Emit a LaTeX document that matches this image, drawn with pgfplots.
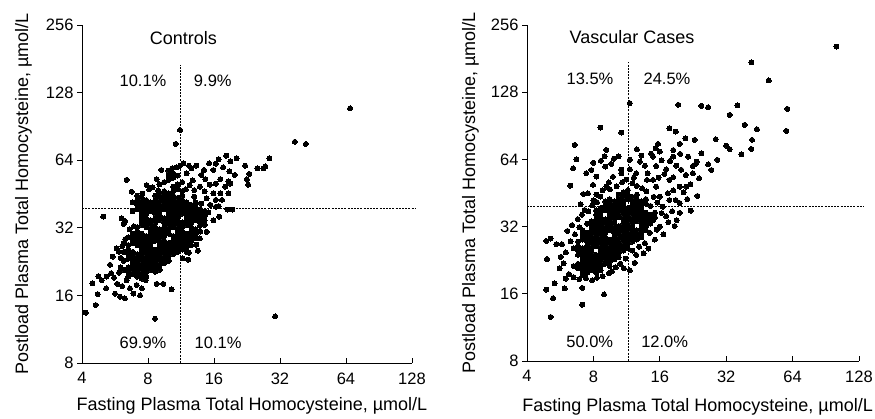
\documentclass[border=0pt]{standalone}
\usepackage{fontspec}
\setmainfont{Liberation Sans}
\usepackage{pgfplots}
\pgfplotsset{compat=1.18}
\begin{document}
\begin{tikzpicture}
\path[use as bounding box] (0,0) rectangle (875bp,419bp);
% ---------------- Controls ----------------
\begin{axis}[at={(82bp,56bp)}, anchor=south west, width=330bp, height=338bp,
  scale only axis,
  xmode=log, ymode=log, log basis x=2, log basis y=2,
  xmin=4, xmax=128, ymin=8, ymax=256,
  axis x line=bottom, axis y line=left,
  axis line style={-, line width=0.8bp},
  xtick={4,8,16,32,64,128}, xticklabels={4,8,16,32,64,128},
  ytick={8,16,32,64,128,256}, yticklabels={8,16,32,64,128,256},
  minor xtick={}, minor ytick={},
  xtick align=inside, ytick align=outside, major tick length=5bp,
  tick style={line width=0.8bp, black},
  tick label style={font=\fontsize{16.5bp}{19bp}\selectfont},
  xticklabel style={yshift=-6bp},
  clip=false,
  xlabel={Fasting Plasma Total Homocysteine, µmol/L},
  ylabel={Postload Plasma Total Homocysteine, µmol/L},
  every axis x label/.style={at={(axis description cs:0.515,-0.142)}, anchor=base, font=\fontsize{18bp}{21bp}\selectfont},
  every axis y label/.style={at={(axis description cs:-0.1636,0.5)}, rotate=90, anchor=base, font=\fontsize{18bp}{21bp}\selectfont}]
\addplot[black, line width=0.6bp, dash pattern=on 2bp off 1.2bp] coordinates {(11.2,8) (11.2,170)};
\addplot[black, line width=0.6bp, dash pattern=on 2bp off 1.2bp] coordinates {(4,38.9) (132,38.9)};
% dense core
\addplot[only marks, mark=*, mark size=2.5bp, mark options={fill=black, draw=black, line width=0pt}] coordinates {
(6.2,20.8) (6.2,22.8) (6.2,25.0) (6.2,27.4)
(6.5,19.4) (6.5,20.4) (6.5,21.3) (6.5,23.3) (6.5,24.4) (6.5,25.6) (6.5,26.8)
(6.81,19.9) (6.81,20.8) (6.81,21.8) (6.81,22.8) (6.81,23.9) (6.81,25.0) (6.81,27.4) (6.81,28.7) (6.81,30.1) (6.81,37.9) (6.81,41.5)
(7.14,19.4) (7.14,20.4) (7.14,21.3) (7.14,22.3) (7.14,23.3) (7.14,24.4) (7.14,26.8) (7.14,28.0) (7.14,29.4) (7.14,30.8) (7.14,32.2) (7.14,38.8) (7.14,40.5) (7.14,42.5) (7.14,44.5)
(7.49,19.0) (7.49,19.9) (7.49,20.8) (7.49,21.8) (7.49,22.8) (7.49,23.9) (7.49,25.0) (7.49,26.2) (7.49,27.4) (7.49,28.7) (7.49,30.1) (7.49,33.0) (7.49,34.5) (7.49,36.2) (7.49,37.9) (7.49,39.6) (7.49,41.5) (7.49,43.5)
(7.85,19.4) (7.85,20.4) (7.85,21.3) (7.85,22.3) (7.85,23.3) (7.85,24.4) (7.85,25.6) (7.85,26.8) (7.85,28.0) (7.85,29.4) (7.85,32.2) (7.85,33.8) (7.85,35.3) (7.85,37.0) (7.85,38.8) (7.85,40.5) (7.85,42.5)
(8.23,20.8) (8.23,21.8) (8.23,22.8) (8.23,23.9) (8.23,25.0) (8.23,26.2) (8.23,27.4) (8.23,28.7) (8.23,30.1) (8.23,31.5) (8.23,33.0) (8.23,34.5) (8.23,37.9) (8.23,39.6) (8.23,41.5)
(8.63,20.4) (8.63,21.3) (8.63,22.3) (8.63,23.3) (8.63,24.4) (8.63,25.6) (8.63,28.0) (8.63,29.4) (8.63,30.8) (8.63,32.2) (8.63,33.8) (8.63,35.3) (8.63,37.0) (8.63,38.8) (8.63,40.5) (8.63,42.5) (8.63,44.5)
(9.05,20.8) (9.05,21.8) (9.05,22.8) (9.05,23.9) (9.05,25.0) (9.05,26.2) (9.05,27.4) (9.05,28.7) (9.05,30.1) (9.05,31.5) (9.05,34.5) (9.05,36.2) (9.05,37.9) (9.05,39.6) (9.05,41.5) (9.05,43.5) (9.05,45.5)
(9.48,22.3) (9.48,23.3) (9.48,24.4) (9.48,25.6) (9.48,26.8) (9.48,28.0) (9.48,29.4) (9.48,30.8) (9.48,32.2) (9.48,33.8) (9.48,35.3) (9.48,38.8) (9.48,40.5) (9.48,42.5) (9.48,44.5) (9.48,46.6) (9.48,51.1)
(9.94,22.8) (9.94,23.9) (9.94,25.0) (9.94,26.2) (9.94,27.4) (9.94,30.1) (9.94,31.5) (9.94,33.0) (9.94,34.5) (9.94,36.2) (9.94,37.9) (9.94,39.6) (9.94,41.5) (9.94,43.5) (9.94,45.5) (9.94,52.3) (9.94,54.7)
(10.42,24.4) (10.42,25.6) (10.42,26.8) (10.42,28.0) (10.42,29.4) (10.42,32.2) (10.42,33.8) (10.42,35.3) (10.42,37.0) (10.42,38.8) (10.42,40.5) (10.42,42.5) (10.42,44.5) (10.42,46.6) (10.42,48.8) (10.42,53.5) (10.42,56.0)
(10.93,25.0) (10.93,26.2) (10.93,27.4) (10.93,28.7) (10.93,30.1) (10.93,31.5) (10.93,33.0) (10.93,34.5) (10.93,36.2) (10.93,37.9) (10.93,39.6) (10.93,41.5) (10.93,43.5) (10.93,47.7) (10.93,49.9) (10.93,54.7)
(11.46,25.6) (11.46,26.8) (11.46,28.0) (11.46,29.4) (11.46,30.8) (11.46,32.2) (11.46,33.8) (11.46,37.0) (11.46,38.8) (11.46,40.5) (11.46,42.5) (11.46,44.5) (11.46,46.6) (11.46,51.1)
(12.01,25.0) (12.01,26.2) (12.01,27.4) (12.01,28.7) (12.01,30.1) (12.01,33.0) (12.01,34.5) (12.01,36.2) (12.01,37.9) (12.01,39.6) (12.01,41.5)
(12.59,26.8) (12.59,28.0) (12.59,29.4) (12.59,30.8) (12.59,32.2) (12.59,33.8) (12.59,35.3) (12.59,37.0) (12.59,38.8) (12.59,40.5)
(13.20,28.7) (13.20,30.1) (13.20,31.5) (13.20,34.5) (13.20,36.2) (13.20,37.9) (13.20,39.6) (13.20,41.5)
(13.84,30.8) (13.84,33.8) (13.84,35.3) (13.84,37.0) (13.84,38.8)
(14.51,33.0) (14.51,34.5) (14.51,36.2) (14.51,37.9)
};
% scattered points
\addplot[only marks, mark=*, mark size=2.5bp, mark options={fill=black, draw=black, line width=0pt}] coordinates {
(66.8,109) (37.4,77.3) (42.0,75.6) (30.4,12.9) (4.16,13.4) (4.62,14.5) (4.46,18.1) (4.75,19.5) (4.72,16.2)
(8.61,12.6) (10.26,17.0) (9.40,18.0) (8.76,18.0) (11.2,87.3) (10.7,75.6) (6.39,52.3) (5.0,35.9) (5.76,25.9)
(5.37,21.9) (5.52,23.8) (5.43,20.1) (5.18,19.4) (5.15,17.2) (5.66,16.3) (5.96,15.8) (6.28,15.5) (6.86,16.3)
(7.36,16.0) (7.81,18.7) (6.62,17.2) (6.39,18.7) (4.92,18.7) (5.6,19.2) (5.9,20.2) (6.0,21.3) (5.8,18.0)
(6.1,17.6) (7.1,17.8) (7.5,17.2) (6.0,23.5) (5.9,25.0) (6.1,26.5) (6.3,28.5) (6.5,29.0) (6.6,31.5) (6.9,32.5) (6.2,33.3)
(6.07,35.3) (6.28,34.3) (6.74,46.3) (7.89,49.6) (7.55,45.4) (8.4,48.4) (9.2,57.9) (8.76,52.7) (8.9,47.0) (8.1,47.5) (9.0,50.0)
(11.6,62.0) (12.6,58.9) (12.0,55.9) (13.3,60.5) (14.4,57.9) (15.9,57.9) (14.6,52.7) (13.8,48.8) (13.0,47.1)
(15.3,49.8) (16.3,50.3) (15.9,45.5) (14.8,43.3) (16.3,42.6) (17.1,45.5) (18.0,48.8) (17.4,42.6) (19.0,50.3)
(16.3,39.7) (15.1,37.5) (15.9,34.6) (14.1,36.0) (13.8,32.7) (14.8,30.7) (13.8,28.7) (13.3,26.9) (12.3,24.8)
(12.2,23.1) (13.5,25.3) (11.5,23.4) (11.2,60.5) (10.3,58.9) (9.9,57.5) (10.8,59.5) (12.3,60.5) (12.8,52.0)
(12.4,49.5) (11.9,47.5) (13.0,44.0) (14.0,41.0) (14.5,46.5) (15.4,40.5) (16.8,40.0)
(19.0,63.2) (18.2,67.0) (20.3,65.3) (16.8,64.7) (16.3,61.8) (22.2,60.5) (25.2,58.9) (26.9,58.9) (27.4,60.0)
(28.6,65.3) (23.2,55.6) (22.6,52.7) (22.9,49.8) (18.6,51.5) (18.6,45.5) (18.4,38.6) (19.4,38.6) (16.9,35.9)
(17.1,52.7) (19.9,55.0) (17.6,59.5) (18.8,57.0) (15.2,62.0) (14.0,55.0)
};
\node[font=\fontsize{18bp}{21bp}\selectfont] at (axis cs:11.6,224) {Controls};
\node[font=\fontsize{16.5bp}{19bp}\selectfont] at (axis cs:7.59,144) {10.1\%};
\node[font=\fontsize{16.5bp}{19bp}\selectfont] at (axis cs:15.8,144) {9.9\%};
\node[font=\fontsize{16.5bp}{19bp}\selectfont] at (axis cs:7.59,9.87) {69.9\%};
\node[font=\fontsize{16.5bp}{19bp}\selectfont] at (axis cs:16.7,9.87) {10.1\%};
\end{axis}
% ---------------- Vascular Cases ----------------
\begin{axis}[at={(527bp,58bp)}, anchor=south west, width=332bp, height=336bp,
  scale only axis,
  xmode=log, ymode=log, log basis x=2, log basis y=2,
  xmin=4, xmax=128, ymin=8, ymax=256,
  axis x line=bottom, axis y line=left,
  axis line style={-, line width=0.8bp},
  xtick={4,8,16,32,64,128}, xticklabels={4,8,16,32,64,128},
  ytick={8,16,32,64,128,256}, yticklabels={8,16,32,64,128,256},
  minor xtick={}, minor ytick={},
  xtick align=inside, ytick align=outside, major tick length=5bp,
  tick style={line width=0.8bp, black},
  tick label style={font=\fontsize{16.5bp}{19bp}\selectfont},
  xticklabel style={yshift=-6bp},
  clip=false,
  xlabel={Fasting Plasma Total Homocysteine, µmol/L},
  ylabel={Postload Plasma Total Homocysteine, µmol/L},
  every axis x label/.style={at={(axis description cs:0.514,-0.149)}, anchor=base, font=\fontsize{18bp}{21bp}\selectfont},
  every axis y label/.style={at={(axis description cs:-0.1566,0.5)}, rotate=90, anchor=base, font=\fontsize{18bp}{21bp}\selectfont}]
\addplot[black, line width=0.6bp, dash pattern=on 2bp off 1.2bp] coordinates {(11.56,8) (11.56,175)};
\addplot[black, line width=0.6bp, dash pattern=on 2bp off 1.2bp] coordinates {(4,39.6) (133.5,39.6)};
\addplot[only marks, mark=*, mark size=2.5bp, mark options={fill=black, draw=black, line width=0pt}] coordinates {
(6.5,21.3) (6.5,25.6)
(6.81,20.8) (6.81,21.8) (6.81,23.9) (6.81,25.0) (6.81,26.2) (6.81,27.4)
(7.14,19.4) (7.14,20.4) (7.14,21.3) (7.14,22.3) (7.14,23.3) (7.14,24.4) (7.14,25.6) (7.14,28.0) (7.14,29.4) (7.14,30.8)
(7.49,19.9) (7.49,20.8) (7.49,21.8) (7.49,22.8) (7.49,23.9) (7.49,25.0) (7.49,26.2) (7.49,27.4) (7.49,28.7) (7.49,30.1) (7.49,33.0)
(7.85,20.4) (7.85,21.3) (7.85,22.3) (7.85,23.3) (7.85,24.4) (7.85,25.6) (7.85,26.8) (7.85,28.0) (7.85,29.4) (7.85,30.8) (7.85,32.2) (7.85,33.8)
(8.23,19.9) (8.23,20.8) (8.23,21.8) (8.23,22.8) (8.23,23.9) (8.23,26.2) (8.23,27.4) (8.23,28.7) (8.23,30.1) (8.23,31.5) (8.23,33.0) (8.23,34.5) (8.23,36.2) (8.23,37.9)
(8.63,20.4) (8.63,21.3) (8.63,22.3) (8.63,23.3) (8.63,24.4) (8.63,25.6) (8.63,26.8) (8.63,28.0) (8.63,29.4) (8.63,30.8) (8.63,32.2) (8.63,33.8) (8.63,35.3) (8.63,37.0) (8.63,38.8)
(9.05,21.8) (9.05,22.8) (9.05,23.9) (9.05,25.0) (9.05,26.2) (9.05,27.4) (9.05,28.7) (9.05,30.1) (9.05,31.5) (9.05,33.0) (9.05,34.5) (9.05,37.9) (9.05,39.6) (9.05,41.5)
(9.48,21.3) (9.48,22.3) (9.48,23.3) (9.48,24.4) (9.48,25.6) (9.48,26.8) (9.48,28.0) (9.48,30.8) (9.48,32.2) (9.48,33.8) (9.48,35.3) (9.48,37.0) (9.48,38.8) (9.48,40.5) (9.48,42.5)
(9.94,22.8) (9.94,23.9) (9.94,25.0) (9.94,26.2) (9.94,27.4) (9.94,28.7) (9.94,30.1) (9.94,31.5) (9.94,33.0) (9.94,34.5) (9.94,36.2) (9.94,37.9) (9.94,39.6) (9.94,41.5)
(10.42,23.3) (10.42,24.4) (10.42,25.6) (10.42,26.8) (10.42,28.0) (10.42,29.4) (10.42,30.8) (10.42,32.2) (10.42,35.3) (10.42,37.0) (10.42,38.8) (10.42,40.5) (10.42,42.5) (10.42,44.5)
(10.93,25.0) (10.93,26.2) (10.93,27.4) (10.93,28.7) (10.93,30.1) (10.93,31.5) (10.93,33.0) (10.93,34.5) (10.93,36.2) (10.93,37.9) (10.93,39.6) (10.93,41.5) (10.93,43.5) (10.93,45.5)
(11.46,25.6) (11.46,26.8) (11.46,28.0) (11.46,29.4) (11.46,30.8) (11.46,32.2) (11.46,33.8) (11.46,35.3) (11.46,37.0) (11.46,38.8) (11.46,42.5) (11.46,44.5) (11.46,46.6)
(12.01,27.4) (12.01,28.7) (12.01,30.1) (12.01,31.5) (12.01,33.0) (12.01,34.5) (12.01,36.2) (12.01,37.9) (12.01,39.6) (12.01,41.5) (12.01,43.5)
(12.59,28.0) (12.59,29.4) (12.59,30.8) (12.59,33.8) (12.59,35.3) (12.59,37.0) (12.59,38.8) (12.59,40.5) (12.59,42.5) (12.59,44.5)
(13.20,28.7) (13.20,30.1) (13.20,31.5) (13.20,33.0) (13.20,34.5) (13.20,36.2) (13.20,37.9) (13.20,39.6) (13.20,41.5)
(13.84,30.8) (13.84,32.2) (13.84,33.8) (13.84,35.3) (13.84,37.0) (13.84,40.5) (13.84,42.5)
(14.51,33.0) (14.51,34.5) (14.51,36.2) (14.51,39.6)
(15.2,35.3) (15.2,37.0)
};
\addplot[only marks, mark=*, mark size=2.5bp, mark options={fill=black, draw=black, line width=0pt}] coordinates {
(101,205) (41.6,174) (49.9,144.5) (60.6,107.8) (60.0,85.9) (36.0,111.6) (33.2,101.3) (38.8,91.4) (44.1,87.4)
(41.9,78.3) (41.6,71.3) (37.5,67.5) (33.2,71.1) (32.0,73.8) (28.7,78.8) (29.2,63.7) (27.4,57.4) (26.5,60.8)
(24.7,111.2) (26.5,109.7) (19.4,112.4) (17.7,88.3) (18.9,85.3) (19.7,75.1) (20.9,79.6) (23.0,78.3) (24.7,68.2)
(19.8,67.7) (11.7,114.3) (10.7,84.4) (8.6,88.9) (6.58,74.3) (6.70,64.1) (6.47,58.4) (6.29,48.8) (23.3,61.1)
(4.89,27.6) (4.93,22.9) (5.12,28.3) (5.43,26.7) (5.76,26.7) (5.69,23.4) (5.87,21.9) (5.99,18.7) (5.63,20.8)
(5.34,17.8) (4.89,16.7) (5.25,15.3) (5.12,12.6) (5.93,16.9) (7.12,17.0) (7.12,14.3) (8.94,15.9) (11.7,20.4)
(12.5,23.9) (6.2,19.6) (6.5,19.0) (6.9,18.6) (7.4,18.8) (7.9,18.4) (8.3,18.9) (8.8,19.2) (9.4,19.8) (6.0,24.5)
(6.3,27.5) (6.6,29.5) (6.1,30.6) (6.4,32.5) (6.9,31.8) (6.8,34.6) (7.1,36.2) (7.3,38.0) (7.0,40.3) (7.6,37.5)
(7.9,39.8) (8.0,42.0) (8.3,41.2) (8.6,43.6) (7.56,45.1) (7.2,44.8) (8.25,44.5) (9.16,48.3) (9.81,53.5) (10.7,55.5)
(9.4,50.5) (10.7,57.6) (11.7,63.8) (11.7,57.8) (12.5,55.5) (13.0,62.6) (13.7,60.0) (14.1,55.5) (14.9,65.9)
(15.7,75.1) (16.0,69.4) (17.1,57.8) (17.7,51.8) (18.4,53.2) (21.0,54.5) (22.6,55.5) (24.1,52.7) (21.1,48.3)
(21.3,42.5) (23.7,43.9) (22.1,37.7) (19.7,36.9) (19.1,34.2) (18.7,32.2) (15.2,28.0) (13.2,28.6) (9.16,70.6)
(8.65,63.1) (9.06,59.4) (9.65,61.1) (7.83,57.4) (7.42,55.5) (8.25,53.6) (7.97,49.2) (14.9,51.8) (15.4,48.3)
(16.0,43.6) (16.5,39.3) (17.7,42.1) (18.4,46.5) (17.1,35.6) (16.0,32.0) (14.9,34.2) (19.7,48.3) (18.9,42.1)
(19.7,40.8) (17.4,45.1) (22.6,59.8) (21.5,65.9) (18.4,65.9) (16.3,63.4) (15.4,59.8) (14.0,51.8) (10.2,48.5)
(10.8,50.5) (11.3,52.0) (12.0,50.0) (12.6,48.7) (13.3,47.5) (13.9,46.0) (12.2,53.0) (8.8,46.5) (9.5,47.0)
(15.6,41.0) (15.0,43.5) (16.3,36.8) (15.5,31.0) (14.4,30.0) (13.7,27.0) (14.2,25.5) (12.9,26.0) (12.0,25.0)
(11.2,23.0) (10.6,21.8) (10.1,21.0) (9.7,20.2) (11.0,20.8) (12.3,22.0) (13.5,24.3) (16.6,29.5) (17.5,33.5)
(18.2,37.5) (20.5,45.5) (22.0,49.5) (23.5,62.5) (20.0,57.5) (19.0,60.0) (16.8,55.0) (15.8,53.0) (17.8,63.0)
(18.4,70.5) (15.3,71.8) (14.6,68.0) (13.2,66.5) (12.6,71.0) (10.4,66.0) (9.9,64.5) (9.0,66.0) (8.0,61.8)
};
\node[font=\fontsize{18bp}{21bp}\selectfont] at (axis cs:11.97,226) {Vascular Cases};
\node[font=\fontsize{16.5bp}{19bp}\selectfont] at (axis cs:7.72,146.7) {13.5\%};
\node[font=\fontsize{16.5bp}{19bp}\selectfont] at (axis cs:17.25,146.7) {24.5\%};
\node[font=\fontsize{16.5bp}{19bp}\selectfont] at (axis cs:7.7,9.76) {50.0\%};
\node[font=\fontsize{16.5bp}{19bp}\selectfont] at (axis cs:16.84,9.76) {12.0\%};
\end{axis}
\end{tikzpicture}
\end{document}
